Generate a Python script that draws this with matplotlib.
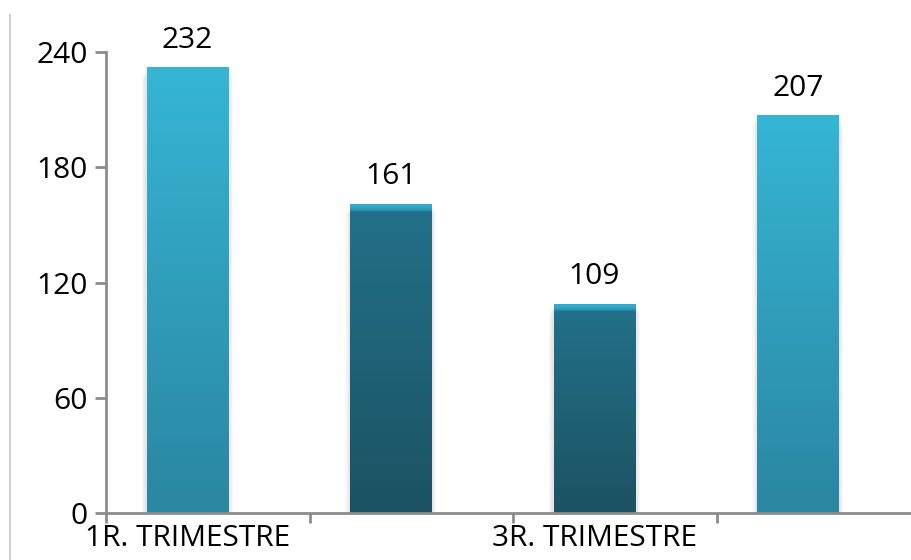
import matplotlib
matplotlib.use("Agg")
import matplotlib.pyplot as plt
import numpy as np
from matplotlib.colors import LinearSegmentedColormap
from matplotlib.lines import Line2D

# ---- data ----
tick_labels = ["1R. TRIMESTRE", "", "3R. TRIMESTRE", ""]
values = [232, 161, 109, 207]
bar_style = ["light", "dark", "dark", "light"]
yticks = [0, 60, 120, 180, 240]

plt.rcParams['font.family'] = ['Open Sans', 'DejaVu Sans']
FS = 21.5

W, H = 911, 560
fig = plt.figure(figsize=(W / 100, H / 100), dpi=100)
left, right, bottom, top = 106, 920, 513, 52
ax = fig.add_axes([left / W, 1 - bottom / H, (right - left) / W, (bottom - top) / H])

x = np.arange(len(values))
bw = 0.4

cmaps = {
    "light": LinearSegmentedColormap.from_list("l", ["#2A86A1", "#36B5D5"]),
}

for i, v in enumerate(values):
    # soft shadow
    for k in range(1, 5):
        ax.bar(x[i], v + k * 0.6, width=bw + k * 0.012, bottom=-k * 1.8,
               color="#7f7f7f", alpha=0.05, zorder=2, linewidth=0)
    bar = ax.bar(x[i], v, width=bw, color="none", linewidth=0, zorder=3)[0]
    if bar_style[i] == "light":
        cmap = cmaps["light"]
    else:
        f = 1 - 3.5 / v
        cmap = LinearSegmentedColormap.from_list(
            "d", [(0, "#1C5262"), (f - 0.005, "#227089"), (f, "#2B8FAE"),
                  (1 - 1.6 / v, "#34AACC"), (1, "#35ACCE")])
    grad = np.linspace(0, 1, 512).reshape(-1, 1)
    im = ax.imshow(grad, extent=[x[i] - bw / 2, x[i] + bw / 2, 0, v], origin="lower",
                   cmap=cmap, aspect="auto", zorder=3, interpolation="bilinear")
    im.set_clip_path(bar)
    ax.annotate(f"{v}", (x[i], v), xytext=(0, 9), textcoords="offset points",
                ha="center", va="bottom", fontsize=FS, color="#000000")

ax.set_xlim(-0.4, 3.6)
ax.set_ylim(0, 240)
ax.set_yticks(yticks)
ax.set_yticklabels([str(t) for t in yticks], fontsize=FS)
ax.set_xticks(x)
ax.set_xticklabels(tick_labels, fontsize=FS)
ax.set_xticks([-0.4, 0.6, 1.6, 2.6, 3.6], minor=True)
ax.tick_params(axis="x", which="major", length=0, pad=8)
ax.tick_params(axis="x", which="minor", length=7, width=2, color="#8c8c8c", direction="out")
ax.tick_params(axis="y", length=8, width=2, color="#8c8c8c", direction="out", pad=5)

for s in ["top", "right"]:
    ax.spines[s].set_visible(False)
for s in ["left", "bottom"]:
    ax.spines[s].set_color("#8c8c8c")
    ax.spines[s].set_linewidth(2)
    ax.spines[s].set_zorder(5)

fig.add_artist(Line2D([9.5 / W, 9.5 / W], [0, 1 - 15 / H], transform=fig.transFigure,
                      color="#c4c4c4", linewidth=1.2))

fig.savefig("out.png", dpi=100)
